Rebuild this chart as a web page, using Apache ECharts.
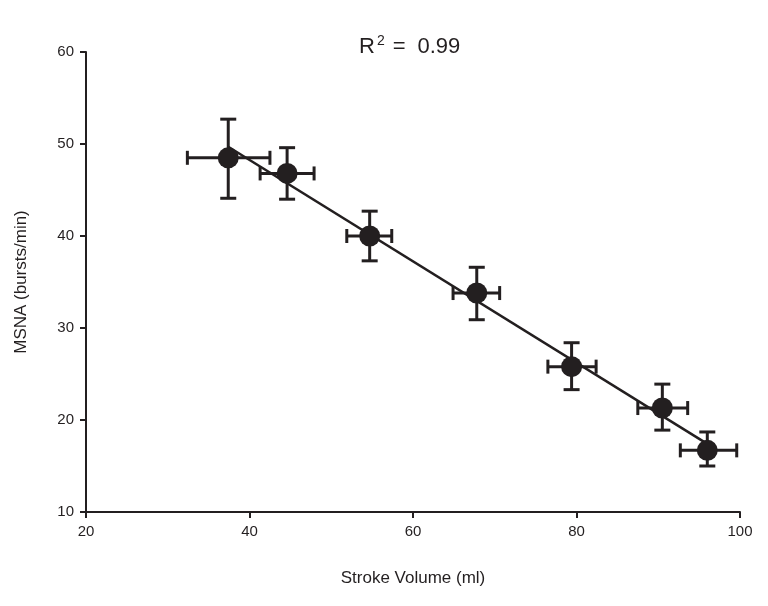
<!DOCTYPE html>
<html><head><meta charset="utf-8">
<script src="https://cdn.jsdelivr.net/npm/echarts@6/dist/echarts.min.js"></script>
<style>html,body{margin:0;padding:0;background:#fff}#c{width:768px;height:606px}</style>
</head><body><div id="c"></div>
<script>
const strokeVolume = [37.4, 44.6, 54.7, 67.8, 79.4, 90.5, 96.0];
const msna = [48.5, 46.8, 40.0, 33.8, 25.8, 21.3, 16.7];
const xLow = [32.4, 41.3, 51.9, 64.9, 76.5, 87.5, 92.7];
const xHigh = [42.5, 47.9, 57.4, 70.6, 82.4, 93.6, 99.6];
const yLow = [44.1, 44.0, 37.3, 30.9, 23.3, 18.9, 15.0];
const yHigh = [52.7, 49.6, 42.7, 36.6, 28.4, 23.9, 18.7];
const fitX = [37.4, 96.0];
const fitY = [49.7, 17.4];
const xTicks = [20, 40, 60, 80, 100];
const yTicks = [10, 20, 30, 40, 50, 60];

const ink = '#231f20';
const font = 'Liberation Sans, Arial';
const pts = strokeVolume.map((x, i) => [x, msna[i]]);
const errData = strokeVolume.map((x, i) => [x, msna[i], xLow[i], xHigh[i], yLow[i], yHigh[i]]);
const fitData = fitX.map((x, i) => [x, fitY[i]]);

const chart = echarts.init(document.getElementById('c'));
chart.setOption({
  animation: false,
  backgroundColor: '#fff',
  grid: { left: 86, right: 28, top: 52, bottom: 94 },
  graphic: [{
    type: 'text', left: 359, top: 34,
    style: {
      text: '{a|R}{s|2}{b|=}{c|0.99}',
      rich: {
        a: { fontSize: 22, fontFamily: font, fill: ink, verticalAlign: 'bottom' },
        s: { fontSize: 14, fontFamily: font, fill: ink, verticalAlign: 'top', padding: [0, 0, 10, 2] },
        b: { fontSize: 22, fontFamily: font, fill: ink, verticalAlign: 'bottom', padding: [0, 12, 0, 8] },
        c: { fontSize: 22, fontFamily: font, fill: ink, verticalAlign: 'bottom', letterSpacing: 1.5 }
      }
    }
  }],
  xAxis: {
    type: 'value', min: xTicks[0], max: xTicks[xTicks.length - 1], interval: 20,
    name: 'Stroke Volume (ml)', nameLocation: 'middle', nameGap: 58,
    nameTextStyle: { fontSize: 17, color: ink, fontFamily: font },
    axisLine: { lineStyle: { color: ink, width: 2 } },
    axisTick: { length: 6, lineStyle: { color: ink, width: 2 } },
    axisLabel: { fontSize: 15, color: ink, margin: 12, fontFamily: font },
    splitLine: { show: false }
  },
  yAxis: {
    type: 'value', min: yTicks[0], max: yTicks[yTicks.length - 1], interval: 10,
    name: 'MSNA (bursts/min)', nameLocation: 'middle', nameGap: 56,
    nameTextStyle: { fontSize: 17, color: ink, fontFamily: font },
    axisLine: { lineStyle: { color: ink, width: 2 } },
    axisTick: { length: 6, lineStyle: { color: ink, width: 2 } },
    axisLabel: { fontSize: 15, color: ink, margin: 12, fontFamily: font },
    splitLine: { show: false }
  },
  series: [
    {
      type: 'line', data: fitData, symbol: 'none', z: 2,
      lineStyle: { color: ink, width: 2.5 }
    },
    {
      type: 'custom', data: errData, z: 3,
      renderItem: function (params, api) {
        const c = api.coord([api.value(0), api.value(1)]);
        const xl = api.coord([api.value(2), api.value(1)]);
        const xh = api.coord([api.value(3), api.value(1)]);
        const yl = api.coord([api.value(0), api.value(4)]);
        const yh = api.coord([api.value(0), api.value(5)]);
        const capV = 7, capH = 8;
        const st = { stroke: ink, lineWidth: 3 };
        const L = (x1, y1, x2, y2) => ({ type: 'line', shape: { x1, y1, x2, y2 }, style: st });
        return {
          type: 'group', children: [
            L(xl[0], c[1], xh[0], c[1]),
            L(xl[0], c[1] - capV, xl[0], c[1] + capV),
            L(xh[0], c[1] - capV, xh[0], c[1] + capV),
            L(c[0], yl[1], c[0], yh[1]),
            L(c[0] - capH, yl[1], c[0] + capH, yl[1]),
            L(c[0] - capH, yh[1], c[0] + capH, yh[1])
          ]
        };
      }
    },
    {
      type: 'scatter', data: pts, symbol: 'circle', symbolSize: 21, z: 4,
      itemStyle: { color: ink, opacity: 1 }
    }
  ]
});
</script></body></html>
